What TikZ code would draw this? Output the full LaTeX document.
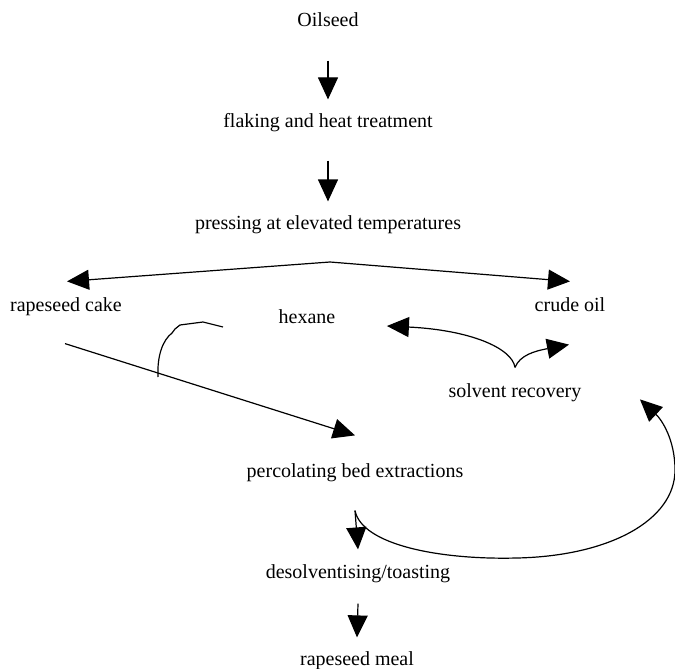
\documentclass[tikz,border=0pt]{standalone}
\usepackage{fontspec}
\setmainfont{Liberation Serif}
\usetikzlibrary{arrows.meta}

\begin{document}
\begin{tikzpicture}[x=1pt,y=-1pt,line width=1.2pt,
    stage/.style={anchor=base,inner sep=0pt,text height=14pt,text depth=4pt,
                  font=\fontsize{20}{24}\selectfont},
    flow/.style={-{Triangle[width=20pt,length=22pt]}}]
    \useasboundingbox (0,0) rectangle (675,669);
    \node (oilseed)  at (328,27)  [stage] {Oilseed};
    \node (flaking)  at (328,128) [stage] {flaking and heat treatment};
    \node (pressing) at (328,229) [stage] {pressing at elevated temperatures};
    \node (cake)     at (66,311)  [stage] {rapeseed cake};
    \node (crude)    at (570,311) [stage] {crude oil};
    \node (hexane)   at (307,323) [stage] {hexane};
    \node (recovery) at (515,397) [stage] {solvent recovery};
    \node (perc)     at (355,477) [stage] {percolating bed extractions};
    \node (desolv)   at (358,578) [stage] {desolventising/toasting};
    \node (meal)     at (357,665) [stage] {rapeseed meal};
    \coordinate (split) at (330,262);
    \coordinate (junction) at ([yshift=15pt]recovery.north);
    \coordinate (hook) at (158,377);
    \draw[flow] ([yshift=-29pt]oilseed.south) -- ([yshift=14pt]flaking.north);
    \draw[flow] ([yshift=-28pt]flaking.south) -- ([yshift=13pt]pressing.north);
    \draw[flow] (split) -- ([xshift=1pt,yshift=15pt]cake.north);
    \draw[flow] (split) -- ([yshift=15pt]crude.north);
    \draw[flow] ([xshift=-1pt,yshift=-28pt]cake.south) -- ([yshift=27pt]perc.north);
    \draw (hook) .. controls (157,355) and (163,340) .. (172,333)
          -- (175,329) -- (180,325) -- (203,322) -- (223,327);
    \draw[flow] (junction) .. controls (512,348) and (470,330) .. ([xshift=51pt,yshift=-8pt]hexane.east);
    \draw[flow] (junction) .. controls (520,355) and (535,351) .. ([xshift=-1pt,yshift=-29pt]crude.south);
    \draw[flow] ([yshift=-29pt]perc.south) -- ([yshift=14pt]desolv.north);
    \draw[flow] ([yshift=-29pt]perc.south) .. controls (362,545) and (440,560) .. (517,558)
          .. controls (610,556) and (675,520) .. (675,470)
          .. controls (675,440) and (662,420) .. ([xshift=58pt,yshift=-17pt]recovery.north east);
    \draw[flow] ([yshift=-21pt]desolv.south) -- ([yshift=13pt]meal.north);
\end{tikzpicture}
\end{document}
